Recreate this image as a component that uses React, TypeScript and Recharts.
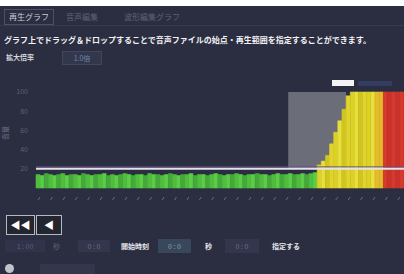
import { BarChart, Bar, XAxis, YAxis, Cell, ReferenceArea, ReferenceLine } from "recharts";

// 音量レベル（各フレーム）
const greenLevels = [
  14, 13, 15, 14, 13, 14, 15, 13, 14, 14,
  13, 15, 14, 13, 14, 14, 15, 13, 14, 13,
  14, 15, 14, 13, 14, 14, 13, 15, 14, 14,
  13, 14, 15, 14, 13, 14, 14, 15, 13, 14,
  14, 13, 14, 15, 14, 13, 14, 14, 15, 14,
  13, 14, 14, 15, 14, 14, 13, 14, 15, 14,
  14, 15, 14, 14, 15, 14, 15, 16,
];
const yellowLevels = [24, 28, 34, 46, 58, 70, 82, 96, 100, 100, 100, 100, 100, 100, 100, 100];
const redLevels = [100, 100, 100, 100, 100];
const yTicks = [20, 40, 60, 80, 100];

const selStart = 61;
const selEnd = 74;
const threshold = 20;

const data = [
  ...greenLevels.map((v) => ({ level: v, zone: "g" })),
  ...yellowLevels.map((v) => ({ level: v, zone: "y" })),
  ...redLevels.map((v) => ({ level: v, zone: "r" })),
];

const greens = ["#4fbd3e", "#5bcc48", "#45a93a"];
const yellows = ["#dcd224", "#e8de3c", "#cfc51e", "#e2d42e"];
const reds = ["#d63a2c", "#c9322a"];

function barColor(zone: string, i: number) {
  if (zone === "g") return greens[i % 3];
  if (zone === "r") return reds[i % 2];
  if (i >= 82) return "#e4bc2a";
  return yellows[i % 4];
}

const SlashTick = (props: any) => {
  const { x, y } = props;
  return <line x1={x - 2} y1={y + 7} x2={x + 2} y2={y + 1} stroke="#666a7e" strokeWidth={1} />;
};

const dim = "#5d6178";

export default function App() {
  return (
    <div
      style={{
        position: "fixed",
        top: 0,
        left: 0,
        width: 404,
        height: 274,
        background: "#2b2e40",
        fontFamily: "'Noto Sans CJK JP', sans-serif",
        overflow: "hidden",
      }}
    >
      <div style={{ position: "absolute", top: 0, left: 0, width: 404, height: 6, background: "#ffffff" }} />

      {/* tabs */}
      <div style={{ position: "absolute", top: 9, left: 4, width: 48, height: 14, border: "1px solid #4c5066", color: "#c9cbd6", fontSize: 8, lineHeight: "14px", textAlign: "center" }}>
        再生グラフ
      </div>
      <div style={{ position: "absolute", top: 9, left: 66, color: "#5e6279", fontSize: 8, lineHeight: "16px" }}>音声編集</div>
      <div style={{ position: "absolute", top: 9, left: 124, color: "#5e6279", fontSize: 8, lineHeight: "16px" }}>波形編集グラフ</div>
      <div style={{ position: "absolute", top: 25, left: 0, width: 404, height: 1, background: "#363a4f" }} />

      <div style={{ position: "absolute", top: 34, left: 4, color: "#f2f2f6", fontSize: 8, fontWeight: 700, whiteSpace: "nowrap" }}>
        グラフ上でドラッグ＆ドロップすることで音声ファイルの始点・再生範囲を指定することができます。
      </div>

      <div style={{ position: "absolute", top: 51, left: 6, color: "#d6d7de", fontSize: 7, fontWeight: 700, lineHeight: "13px" }}>拡大倍率</div>
      <div style={{ position: "absolute", top: 51, left: 62, width: 38, height: 12, background: "#33374c", border: "1px solid #41465e", color: "#6b86ad", fontSize: 7, lineHeight: "12px", textAlign: "center" }}>
        1.0倍
      </div>

      {/* playhead marker */}
      <div style={{ position: "absolute", top: 80, left: 332, width: 22, height: 6, background: "#f4f4f6" }} />
      <div style={{ position: "absolute", top: 81, left: 358, width: 34, height: 5, background: "#353c62" }} />

      <div style={{ position: "absolute", top: 74, left: 0 }}>
        <BarChart
          width={404}
          height={126}
          data={data}
          margin={{ top: 18, right: 0, left: 0, bottom: 0 }}
          barCategoryGap={0}
        >
          <XAxis
            height={12}
            interval={2}
            axisLine={false}
            tickLine={false}
            tick={<SlashTick />}
          />
          <YAxis
            width={36}
            domain={[0, 100]}
            ticks={yTicks}
            axisLine={false}
            tickLine={false}
            tick={{ fontSize: 7, fill: dim }}
            label={{ value: "音量", angle: -90, position: "insideLeft", offset: 6, fill: "#6e7288", fontSize: 7 }}
          />
          <ReferenceArea x1={selStart} x2={selEnd} y1={threshold} y2={100} fill="#6b6d79" fillOpacity={1} />
          <Bar dataKey="level" isAnimationActive={false}>
            {data.map((d, i) => (
              <Cell key={i} fill={barColor(d.zone, i)} stroke={barColor(d.zone, i)} strokeWidth={0.6} />
            ))}
          </Bar>
          <ReferenceLine y={threshold + 2} stroke="#6a4c8c" strokeWidth={1} />
          <ReferenceLine y={threshold} stroke="#e2e2ea" strokeWidth={2} />
        </BarChart>
      </div>

      {/* transport buttons */}
      <div style={{ position: "absolute", top: 215, left: 6, width: 27, height: 18, border: "1px solid #b6b8c4", background: "#23252f", color: "#ffffff", fontSize: 10, lineHeight: "18px", textAlign: "center" }}>◀◀</div>
      <div style={{ position: "absolute", top: 215, left: 36, width: 24, height: 18, border: "1px solid #b6b8c4", background: "#23252f", color: "#ffffff", fontSize: 10, lineHeight: "18px", textAlign: "center" }}>◀</div>

      {/* time fields */}
      <div style={{ position: "absolute", top: 240, left: 5, width: 40, height: 12, background: "#30334a", color: dim, fontSize: 7, lineHeight: "12px", textAlign: "center" }}>1 : 00</div>
      <div style={{ position: "absolute", top: 240, left: 53, color: dim, fontSize: 7, lineHeight: "12px" }}>秒</div>
      <div style={{ position: "absolute", top: 240, left: 78, width: 32, height: 12, background: "#33364c", color: "#70748a", fontSize: 7, lineHeight: "12px", textAlign: "center" }}>0 : 0</div>
      <div style={{ position: "absolute", top: 240, left: 121, color: "#e6e6ec", fontSize: 7, fontWeight: 700, lineHeight: "12px" }}>開始時刻</div>
      <div style={{ position: "absolute", top: 239, left: 158, width: 33, height: 14, background: "#38475c", color: "#8fa2b8", fontSize: 7, lineHeight: "14px", textAlign: "center" }}>0 : 0</div>
      <div style={{ position: "absolute", top: 240, left: 205, color: "#e6e6ec", fontSize: 7, fontWeight: 700, lineHeight: "12px" }}>秒</div>
      <div style={{ position: "absolute", top: 239, left: 225, width: 34, height: 14, background: "#33364c", color: "#70748a", fontSize: 7, lineHeight: "14px", textAlign: "center" }}>0 : 0</div>
      <div style={{ position: "absolute", top: 240, left: 272, color: "#e6e6ec", fontSize: 7, fontWeight: 700, lineHeight: "12px" }}>指定する</div>

      <div style={{ position: "absolute", top: 264, left: 5, width: 9, height: 9, borderRadius: 5, background: "#c2c2ca" }} />
      <div style={{ position: "absolute", top: 264, left: 40, width: 55, height: 10, background: "#34374c" }} />
    </div>
  );
}
